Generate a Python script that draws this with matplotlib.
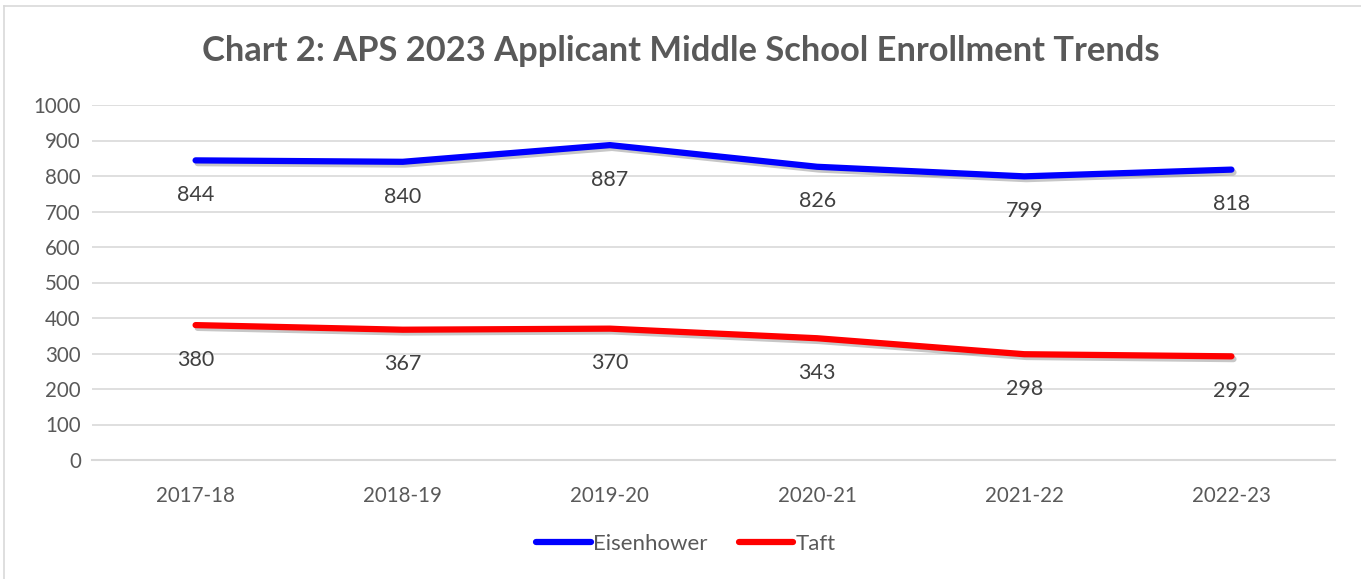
import matplotlib
matplotlib.use("Agg")
import matplotlib.pyplot as plt
import matplotlib.patheffects as pe
from matplotlib.lines import Line2D

plt.rcParams["font.family"] = ["Lato", "DejaVu Sans"]

years = ["2017-18", "2018-19", "2019-20", "2020-21", "2021-22", "2022-23"]
eisenhower = [844, 840, 887, 826, 799, 818]
taft = [380, 367, 370, 343, 298, 292]

text_grey = "#595959"
label_grey = "#404040"
grid_grey = "#d9d9d9"

fig = plt.figure(figsize=(13.61, 5.79), dpi=100)
ax = fig.add_axes([92 / 1361, 1 - 460 / 579, (1335 - 92) / 1361, (460 - 105) / 579])

shadow = [pe.SimpleLineShadow(offset=(1.5, -2), shadow_color="#000000", alpha=0.22), pe.Normal()]
x = range(len(years))
for vals, color, name in ((eisenhower, "#0000ff", "Eisenhower"), (taft, "#ff0000", "Taft")):
    ax.plot(x, vals, color=color, lw=4.5, solid_capstyle="round", label=name,
            path_effects=shadow, zorder=3)
    for xi, v in zip(x, vals):
        ax.annotate(str(v), (xi, v), xytext=(0, -25), textcoords="offset points",
                    ha="center", va="center", fontsize=15.5, color=label_grey, zorder=4)

ax.set_xlim(-0.5, len(years) - 0.5)
ax.set_ylim(0, 1000)
ax.set_yticks(range(0, 1001, 100))
ax.set_xticks(list(x))
ax.set_xticklabels(years)
ax.grid(axis="y", color=grid_grey, lw=1.2)
ax.set_axisbelow(True)
for s in ax.spines.values():
    s.set_visible(False)
ax.spines["bottom"].set_visible(True)
ax.spines["bottom"].set_color(grid_grey)
ax.spines["bottom"].set_linewidth(1.5)
ax.tick_params(length=0, labelsize=14.8, colors=text_grey)
ax.tick_params(axis="x", pad=19)
ax.tick_params(axis="y", pad=8)

fig.text(0.5, 1 - 51 / 579, "Chart 2: APS 2023 Applicant Middle School Enrollment Trends",
         ha="center", va="center", fontsize=24.8, fontweight="bold", color=text_grey)

handles = [Line2D([], [], color="#0000ff", lw=4.5, solid_capstyle="round"),
           Line2D([], [], color="#ff0000", lw=4.5, solid_capstyle="round")]
fig.legend(handles, ["Eisenhower", "Taft"], loc="center", bbox_to_anchor=(686 / 1361, 1 - 544 / 579),
           ncol=2, frameon=False, handlelength=2.45, handletextpad=0.1, columnspacing=1.4,
           prop={"size": 16}, labelcolor=text_grey)

# Outer chart border (only top and left edges show in the crop)
fig.add_artist(Line2D([4 / 1361, 4 / 1361], [0, 1 - 6 / 579], transform=fig.transFigure,
                      color=grid_grey, lw=1.2))
fig.add_artist(Line2D([4 / 1361, 1], [1 - 6 / 579, 1 - 6 / 579], transform=fig.transFigure,
                      color=grid_grey, lw=1.2))

fig.savefig("out.png", dpi=100)
